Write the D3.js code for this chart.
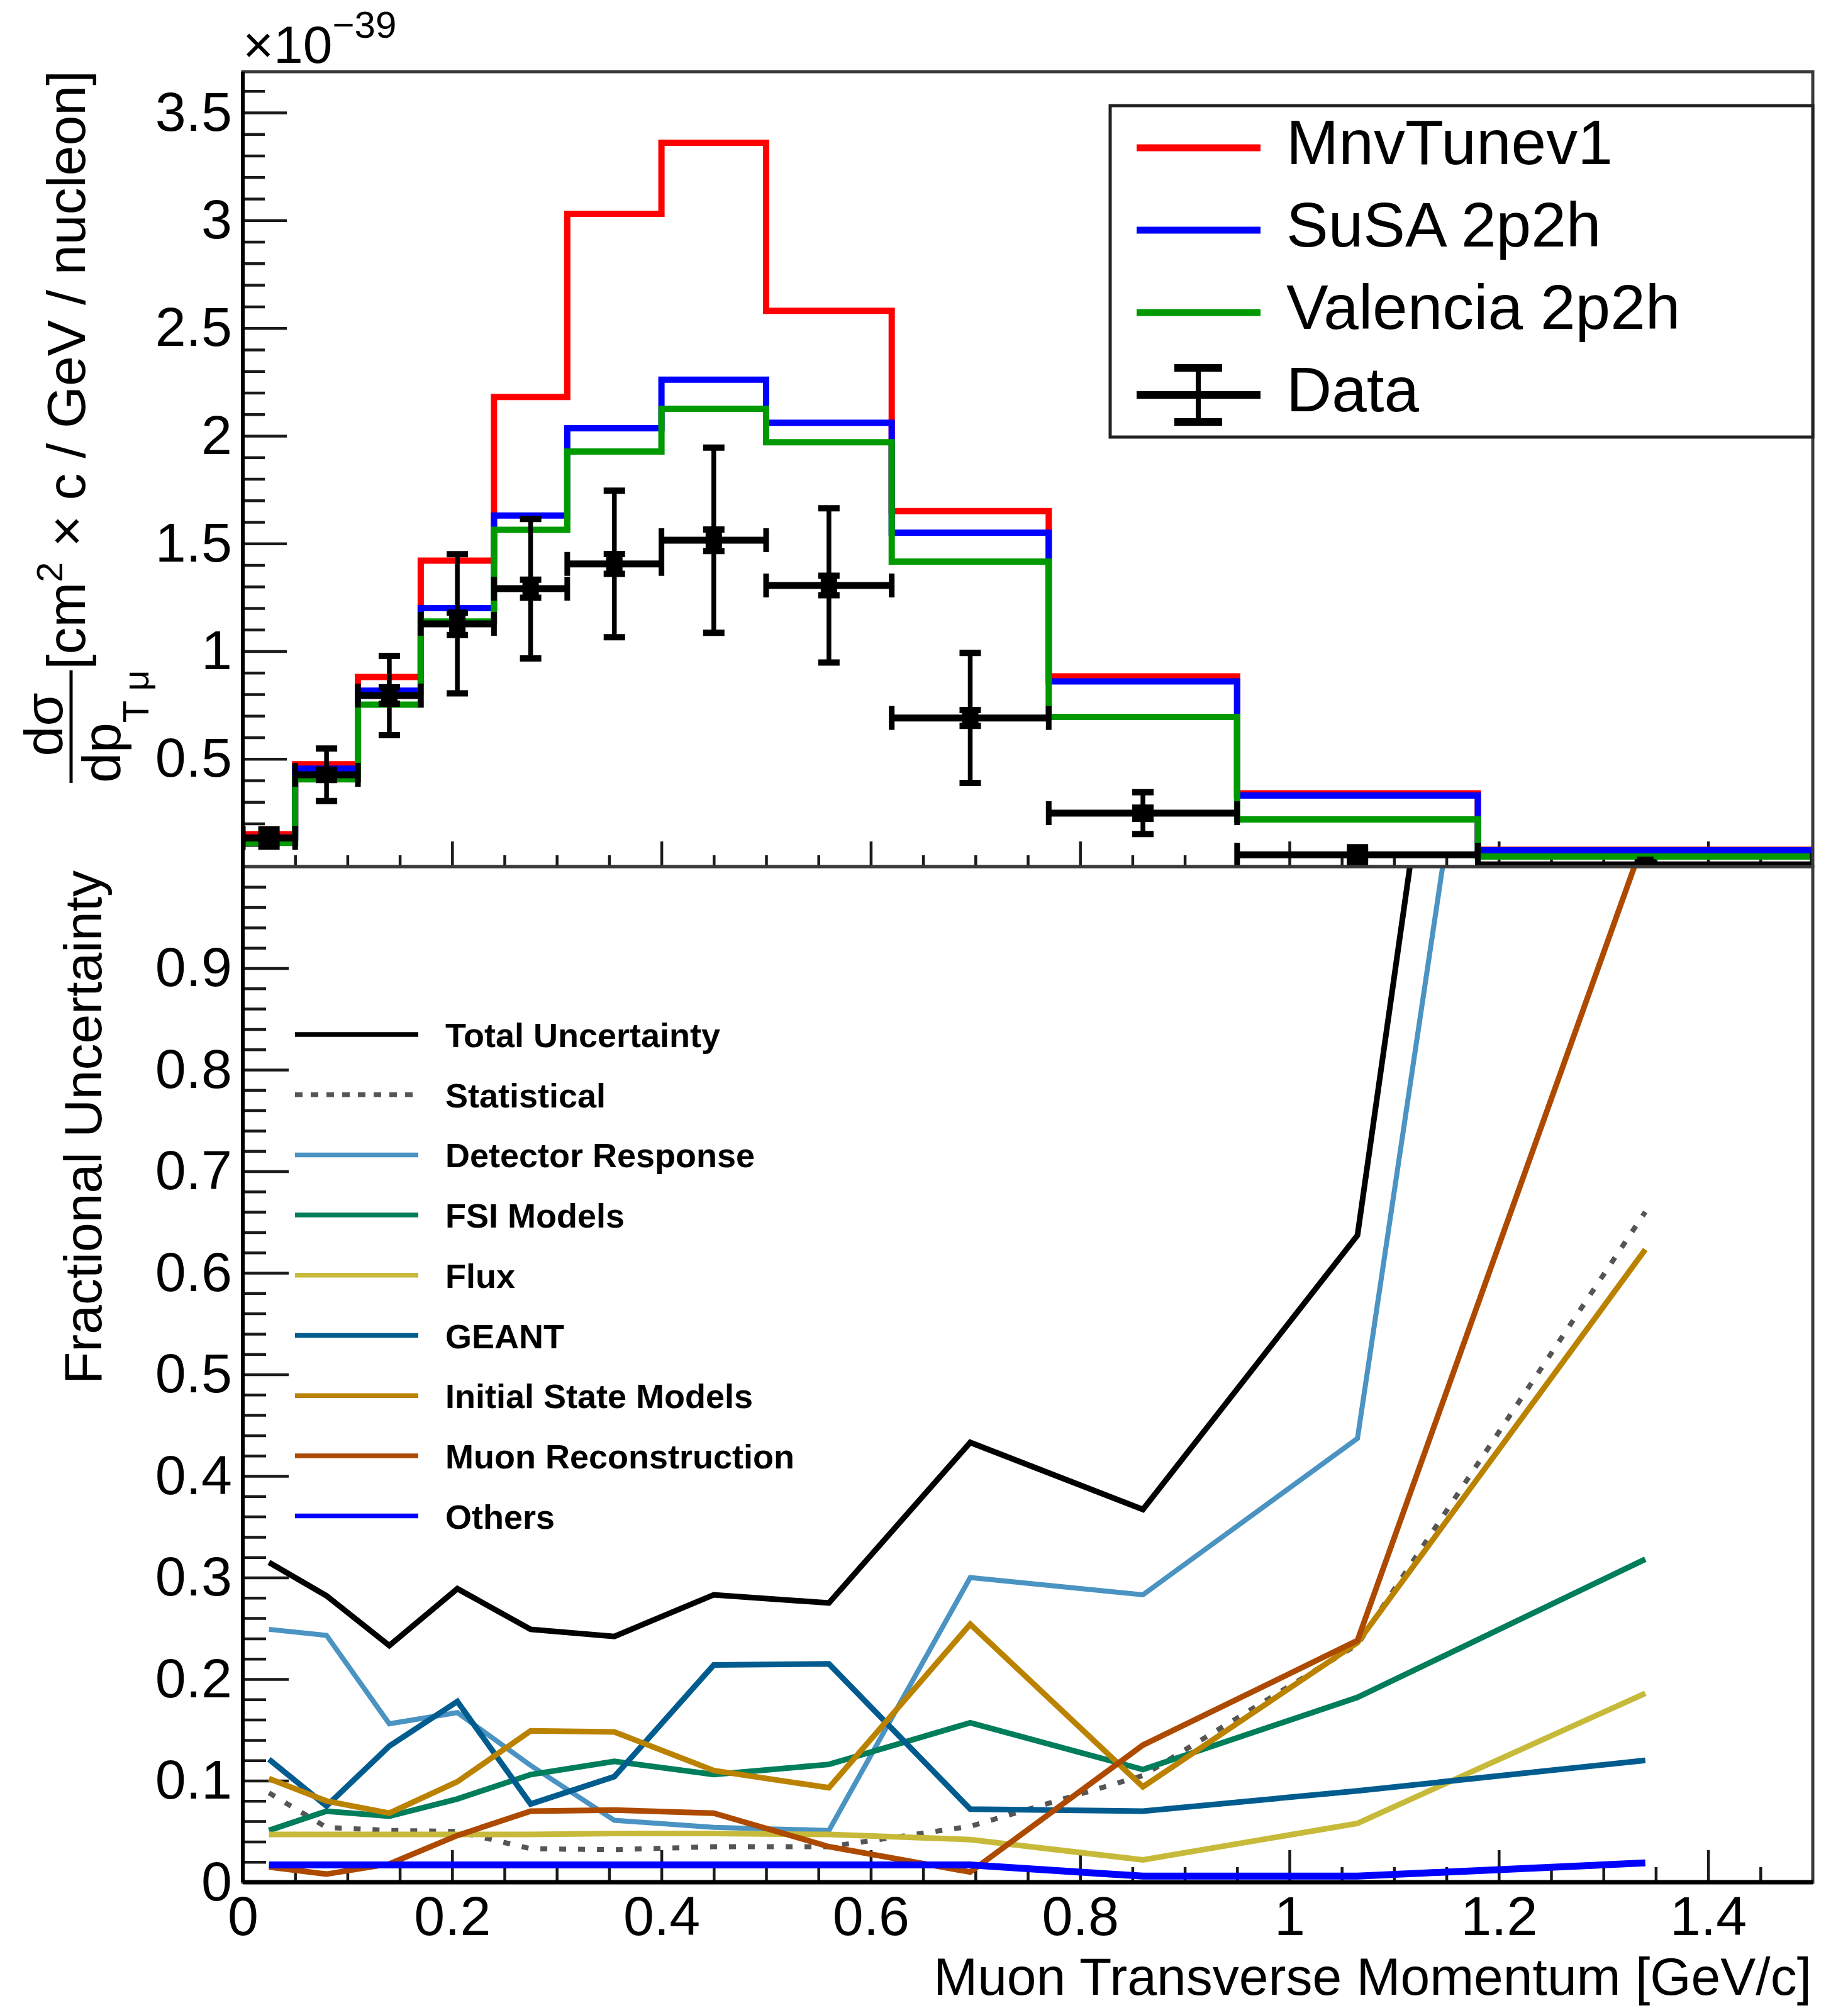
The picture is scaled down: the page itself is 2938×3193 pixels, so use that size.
<!DOCTYPE html>
<html><head><meta charset="utf-8">
<script src="https://cdn.jsdelivr.net/npm/d3@7"></script>
<style>body{margin:0;background:#fff}</style>
</head><body>
<svg id="c" width="2938" height="3193" xmlns="http://www.w3.org/2000/svg"></svg>
<script>
// ---------------- DATA ----------------
const binEdges = [0, 0.05, 0.11, 0.17, 0.24, 0.31, 0.40, 0.50, 0.62, 0.77, 0.95, 1.18, 1.5];
const mnvTune  = [0.15, 0.475, 0.88, 1.42, 2.18, 3.03, 3.36, 2.58, 1.65, 0.883, 0.34, 0.078];
const susa     = [0.135, 0.455, 0.817, 1.20, 1.63, 2.035, 2.26, 2.06, 1.55, 0.86, 0.33, 0.076];
const valencia = [0.11, 0.405, 0.752, 1.138, 1.563, 1.927, 2.125, 1.97, 1.416, 0.695, 0.219, 0.047];
const dataVal  = [0.133, 0.426, 0.794, 1.127, 1.29, 1.405, 1.515, 1.305, 0.69, 0.248, 0.055, 0.008];
const dataErr  = [0.04, 0.122, 0.184, 0.323, 0.324, 0.34, 0.43, 0.358, 0.302, 0.097, 0.035, 0.012];
const dataStat = [0.012, 0.024, 0.038, 0.052, 0.042, 0.046, 0.05, 0.045, 0.037, 0.026, 0.013, 0.006];

const totalUnc = [0.315, 0.282, 0.233, 0.289, 0.249, 0.242, 0.283, 0.275, 0.433, 0.367, 0.637, 2.63];
const statUnc  = [0.088, 0.054, 0.051, 0.05, 0.033, 0.032, 0.035, 0.035, 0.055, 0.105, 0.234, 0.66];
const detUnc   = [0.249, 0.243, 0.156, 0.167, 0.115, 0.061, 0.054, 0.051, 0.30, 0.283, 0.437, 2.34];
const fsiUnc   = [0.051, 0.070, 0.065, 0.082, 0.106, 0.119, 0.106, 0.116, 0.157, 0.111, 0.182, 0.318];
const fluxUnc  = [0.047, 0.047, 0.047, 0.047, 0.047, 0.048, 0.048, 0.047, 0.042, 0.022, 0.058, 0.186];
const geantUnc = [0.121, 0.075, 0.134, 0.178, 0.077, 0.104, 0.214, 0.215, 0.072, 0.070, 0.090, 0.120];
const ismUnc   = [0.102, 0.080, 0.068, 0.099, 0.149, 0.148, 0.110, 0.093, 0.254, 0.094, 0.236, 0.623];
const muonUnc  = [0.015, 0.008, 0.018, 0.046, 0.070, 0.071, 0.068, 0.035, 0.010, 0.135, 0.238, 1.03];
const otherUnc = [0.017, 0.017, 0.017, 0.017, 0.017, 0.017, 0.017, 0.017, 0.017, 0.006, 0.006, 0.019];

const modelNames = ["MnvTunev1", "SuSA 2p2h", "Valencia 2p2h"];
const uncNames = ["Total Uncertainty", "Statistical", "Detector Response", "FSI Models", "Flux",
                  "GEANT", "Initial State Models", "Muon Reconstruction", "Others"];

const topYTicks = [0.5, 1, 1.5, 2, 2.5, 3, 3.5];
const botYTicks = [0, 0.1, 0.2, 0.3, 0.4, 0.5, 0.6, 0.7, 0.8, 0.9];
const xTicks = [0, 0.2, 0.4, 0.6, 0.8, 1, 1.2, 1.4];

// ---------------- LAYOUT ----------------
const FONT = "'Liberation Sans', Arial, Helvetica, sans-serif";
const X0 = 386, X1 = 2882, YT0 = 114, YT1 = 1378, YB1 = 2993;
const svg = d3.select("#c");
svg.append("rect").attr("width", 2938).attr("height", 3193).attr("fill", "#fff");

const x = d3.scaleLinear([0, 1.5], [X0, X1]);
const yTop = d3.scaleLinear([0, 3.69], [YT1, YT0]);
const yBot = d3.scaleLinear([0, 1], [YB1, YT1]);

const defs = svg.append("defs");
defs.append("clipPath").attr("id", "clipTop").append("rect")
  .attr("x", X0).attr("y", YT0).attr("width", X1 - X0).attr("height", YT1 - YT0);
defs.append("clipPath").attr("id", "clipBot").append("rect")
  .attr("x", X0).attr("y", YT1).attr("width", X1 - X0).attr("height", YB1 - YT1);

const centers = binEdges.slice(0, -1).map((e, i) => (e + binEdges[i + 1]) / 2);
const rnd = v => Math.round(v * 1000) / 1000;

function styleAxis(g, size, showText) {
  g.attr("font-family", FONT).attr("font-size", size).attr("fill", "none");
  g.select(".domain").remove();
  g.selectAll(".tick line").attr("stroke", "#1a1a1a").attr("stroke-width", 4.5);
  g.selectAll(".tick text").attr("fill", "#000");
  if (!showText) g.selectAll(".tick text").remove();
}

// ---------- TOP PANEL axes ----------
const topMinorY = d3.range(1, 37).map(i => rnd(i * 0.1)).filter(v => !topYTicks.includes(v));
svg.append("g").attr("transform", `translate(${X0},0)`)
  .call(d3.axisLeft(yTop).tickValues(topMinorY).tickSizeInner(-35).tickSizeOuter(0).tickFormat(""))
  .call(g => styleAxis(g, 88, false));
svg.append("g").attr("transform", `translate(${X0},0)`)
  .call(d3.axisLeft(yTop).tickValues(topYTicks).tickSizeInner(-70).tickSizeOuter(0).tickPadding(17).tickFormat(d => String(d)))
  .call(g => styleAxis(g, 88, true));

const xMinor = d3.range(1, 30).map(i => rnd(i * 0.05)).filter(v => !xTicks.includes(v));
svg.append("g").attr("transform", `translate(0,${YT1})`)
  .call(d3.axisBottom(x).tickValues(xMinor).tickSizeInner(-18).tickSizeOuter(0).tickFormat(""))
  .call(g => styleAxis(g, 88, false));
svg.append("g").attr("transform", `translate(0,${YT1})`)
  .call(d3.axisBottom(x).tickValues(xTicks).tickSizeInner(-40).tickSizeOuter(0).tickFormat(""))
  .call(g => styleAxis(g, 88, false));

// ---------- BOTTOM PANEL axes ----------
const botMinorY = d3.range(1, 50).map(i => rnd(i * 0.02)).filter(v => !botYTicks.includes(v));
svg.append("g").attr("transform", `translate(${X0},0)`)
  .call(d3.axisLeft(yBot).tickValues(botMinorY).tickSizeInner(-37).tickSizeOuter(0).tickFormat(""))
  .call(g => styleAxis(g, 88, false));
svg.append("g").attr("transform", `translate(${X0},0)`)
  .call(d3.axisLeft(yBot).tickValues(botYTicks).tickSizeInner(-73).tickSizeOuter(0).tickPadding(17).tickFormat(d => String(d)))
  .call(g => styleAxis(g, 88, true));
svg.append("g").attr("transform", `translate(0,${YB1})`)
  .call(d3.axisBottom(x).tickValues(xMinor).tickSizeInner(-24).tickSizeOuter(0).tickFormat(""))
  .call(g => styleAxis(g, 88, false));
svg.append("g").attr("transform", `translate(0,${YB1})`)
  .call(d3.axisBottom(x).tickValues(xTicks).tickSizeInner(-51).tickSizeOuter(0).tickPadding(22).tickFormat(d => String(d)))
  .call(g => styleAxis(g, 88, true));

// ---------- TOP PANEL content ----------
const topG = svg.append("g").attr("clip-path", "url(#clipTop)");
const stepLine = d3.line().x(d => x(d[0])).y(d => yTop(d[1])).curve(d3.curveStepAfter);
const histPts = vals => vals.map((v, i) => [binEdges[i], v]).concat([[binEdges[vals.length], vals[vals.length - 1]]]);
const modelColors = ["#ff0000", "#0000ff", "#009900"];
[mnvTune, susa, valencia].forEach((vals, k) => {
  topG.append("path").attr("d", stepLine(histPts(vals)))
    .attr("fill", "none").attr("stroke", modelColors[k]).attr("stroke-width", 10);
});

// data points with error bars
const dg = topG.append("g").attr("stroke", "#000");
dataVal.forEach((v, i) => {
  const cx = x(centers[i]), cy = yTop(v);
  const xl = x(binEdges[i]), xr = x(binEdges[i + 1]);
  dg.append("line").attr("x1", xl).attr("x2", xr).attr("y1", cy).attr("y2", cy).attr("stroke-width", 11);
  [xl, xr].forEach(xx => dg.append("line").attr("x1", xx).attr("x2", xx)
    .attr("y1", cy - 19).attr("y2", cy + 19).attr("stroke-width", 9));
  const yHi = yTop(v + dataErr[i]), yLo = yTop(v - dataErr[i]);
  dg.append("line").attr("x1", cx).attr("x2", cx).attr("y1", yHi).attr("y2", yLo).attr("stroke-width", 7.5);
  [yHi, yLo, yTop(v + dataStat[i]), yTop(v - dataStat[i])].forEach(yy =>
    dg.append("line").attr("x1", cx - 17).attr("x2", cx + 17).attr("y1", yy).attr("y2", yy).attr("stroke-width", 10));
  dg.append("rect").attr("x", cx - 13).attr("y", cy - 13).attr("width", 26).attr("height", 26)
    .attr("fill", "#000").attr("stroke", "none");
});

// ---------- BOTTOM PANEL content ----------
const botG = svg.append("g").attr("clip-path", "url(#clipBot)");
const uncSeries = [totalUnc, statUnc, detUnc, fsiUnc, fluxUnc, geantUnc, ismUnc, muonUnc, otherUnc];
const uncColors = ["#000000", "#555555", "#4a93c2", "#007d5a", "#c7ba3a", "#005c8f", "#bb8200", "#ad4a00", "#0000ff"];
const uncDash = [null, "11,19", null, null, null, null, null, null, null];
const uncWidth = [9, 8, 8, 9, 9, 9, 9, 9, 11];
const polyLine = d3.line().x(d => x(d[0])).y(d => yBot(d[1]));
uncSeries.forEach((vals, k) => {
  botG.append("path").attr("d", polyLine(vals.map((v, i) => [centers[i], v])))
    .attr("fill", "none").attr("stroke", uncColors[k]).attr("stroke-width", uncWidth[k])
    .attr("stroke-linejoin", "miter").attr("stroke-dasharray", uncDash[k]);
});

// ---------- frames ----------
svg.append("rect").attr("x", X0).attr("y", YT0).attr("width", X1 - X0).attr("height", YT1 - YT0)
  .attr("fill", "none").attr("stroke", "#3a3a3a").attr("stroke-width", 5);
svg.append("rect").attr("x", X0).attr("y", YT1).attr("width", X1 - X0).attr("height", YB1 - YT1)
  .attr("fill", "none").attr("stroke", "#3a3a3a").attr("stroke-width", 5);
svg.append("line").attr("x1", X0).attr("x2", X0).attr("y1", YT0).attr("y2", YB1).attr("stroke", "#000").attr("stroke-width", 6);
svg.append("line").attr("x1", X0).attr("x2", X1).attr("y1", YB1).attr("y2", YB1).attr("stroke", "#000").attr("stroke-width", 7);

// ---------- top legend ----------
const LX = 1765, LY = 168, LW = X1 - 1765, LH = 527;
svg.append("rect").attr("x", LX).attr("y", LY).attr("width", LW).attr("height", LH)
  .attr("fill", "#fff").attr("stroke", "#222").attr("stroke-width", 5);
const legRowY = i => LY + 67 + i * 131;
modelNames.forEach((name, i) => {
  svg.append("line").attr("x1", 1807).attr("x2", 2004).attr("y1", legRowY(i)).attr("y2", legRowY(i))
    .attr("stroke", modelColors[i]).attr("stroke-width", 11);
  svg.append("text").attr("x", 2045).attr("y", legRowY(i) + 26).attr("font-family", FONT)
    .attr("font-size", 100).attr("fill", "#000").text(name);
});
{
  const yy = legRowY(3), cx = 1905;
  const lg = svg.append("g").attr("stroke", "#000");
  lg.append("line").attr("x1", 1807).attr("x2", 2004).attr("y1", yy).attr("y2", yy).attr("stroke-width", 12);
  lg.append("line").attr("x1", cx).attr("x2", cx).attr("y1", yy - 43).attr("y2", yy + 43).attr("stroke-width", 8);
  [yy - 43, yy + 43].forEach(v => lg.append("line").attr("x1", cx - 38).attr("x2", cx + 38)
    .attr("y1", v).attr("y2", v).attr("stroke-width", 12));
  svg.append("text").attr("x", 2045).attr("y", yy + 26).attr("font-family", FONT)
    .attr("font-size", 100).attr("fill", "#000").text("Data");
}

// ---------- bottom legend ----------
uncNames.forEach((name, i) => {
  const yy = 1645 + i * 95.7;
  svg.append("line").attr("x1", 469).attr("x2", 665).attr("y1", yy).attr("y2", yy)
    .attr("stroke", uncColors[i]).attr("stroke-width", 7.5).attr("stroke-dasharray", i === 1 ? "12,13" : null);
  svg.append("text").attr("x", 708).attr("y", yy + 20).attr("font-family", FONT).attr("font-weight", "bold")
    .attr("font-size", 54).attr("fill", "#000").text(name);
});

// ---------- titles ----------
const t10 = svg.append("text").attr("x", 386).attr("y", 100).attr("font-family", FONT)
  .attr("font-size", 84).attr("fill", "#000");
t10.append("tspan").text("\u00d710");
t10.append("tspan").attr("dy", -40).attr("font-size", 60).text("\u221239");

svg.append("text").attr("x", 2880).attr("y", 3172).attr("text-anchor", "end")
  .attr("font-family", FONT).attr("font-size", 84).attr("fill", "#000")
  .text("Muon Transverse Momentum [GeV/c]");

const rot = svg.append("g").attr("transform", "rotate(-90)")
  .attr("font-family", FONT).attr("fill", "#000");
rot.append("text").attr("x", -1384).attr("y", 161).attr("text-anchor", "end")
  .attr("font-size", 84).text("Fractional Uncertainty");

const yt = rot.append("text").attr("x", -112).attr("y", 135).attr("text-anchor", "end").attr("font-size", 86);
yt.append("tspan").text("[cm");
yt.append("tspan").attr("dy", -36).attr("font-size", 58).text("2");
yt.append("tspan").attr("dy", 36).text(" \u00d7 c / GeV / nucleon]");

rot.append("line").attr("x1", -1245).attr("x2", -1066).attr("y1", 113).attr("y2", 113)
  .attr("stroke", "#000").attr("stroke-width", 5);
rot.append("text").attr("x", -1152).attr("y", 99).attr("text-anchor", "middle").attr("font-size", 86).text("d\u03c3");
const den = rot.append("text").attr("x", -1155).attr("y", 191).attr("text-anchor", "middle").attr("font-size", 86);
den.append("tspan").text("dp");
den.append("tspan").attr("dy", 45).attr("font-size", 58).text("T \u03bc");
</script>
</body></html>
